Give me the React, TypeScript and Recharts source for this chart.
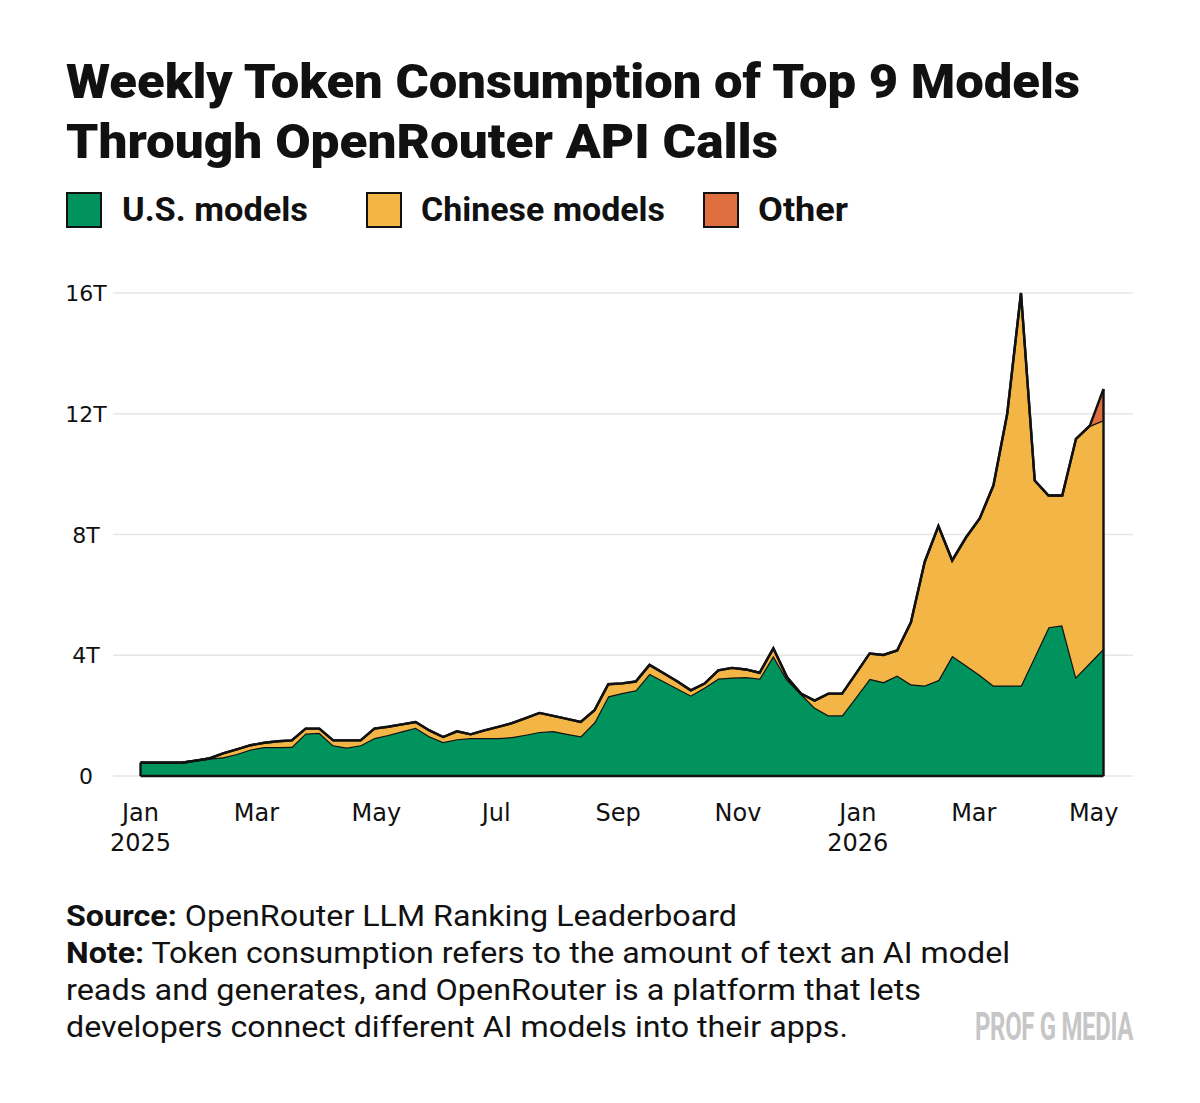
import React from "react";
import { AreaChart, Area, XAxis, YAxis, CartesianGrid, ReferenceLine } from "recharts";

// Weekly observation dates
const weeks = [
  "2025-01-01","2025-01-08","2025-01-15","2025-01-22","2025-01-29",
  "2025-02-05","2025-02-12","2025-02-19","2025-02-26",
  "2025-03-05","2025-03-12","2025-03-19","2025-03-26",
  "2025-04-02","2025-04-09","2025-04-16","2025-04-23","2025-04-30",
  "2025-05-07","2025-05-14","2025-05-21","2025-05-28",
  "2025-06-04","2025-06-11","2025-06-18","2025-06-25",
  "2025-07-02","2025-07-09","2025-07-16","2025-07-23","2025-07-30",
  "2025-08-06","2025-08-13","2025-08-20","2025-08-27",
  "2025-09-03","2025-09-10","2025-09-17","2025-09-24",
  "2025-10-01","2025-10-08","2025-10-15","2025-10-22","2025-10-29",
  "2025-11-05","2025-11-12","2025-11-19","2025-11-26",
  "2025-12-03","2025-12-10","2025-12-17","2025-12-24","2025-12-31",
  "2026-01-07","2026-01-14","2026-01-21","2026-01-28",
  "2026-02-04","2026-02-11","2026-02-18","2026-02-25",
  "2026-03-04","2026-03-11","2026-03-18","2026-03-25",
  "2026-04-01","2026-04-08","2026-04-15","2026-04-22","2026-04-29",
  "2026-05-06",
];

// Trillions of tokens per week
const usModels = [
  0.44,0.44,0.44,0.44,0.51,0.58,0.62,0.73,0.88,0.96,
  0.96,0.97,1.41,1.43,1.02,0.94,1.02,1.26,1.36,1.48,
  1.60,1.32,1.13,1.22,1.26,1.26,1.26,1.29,1.37,1.46,
  1.49,1.40,1.32,1.78,2.64,2.75,2.84,3.39,3.15,2.91,
  2.67,2.93,3.23,3.26,3.28,3.23,3.98,3.20,2.73,2.27,
  2.01,2.01,2.61,3.22,3.11,3.33,3.04,3.00,3.18,3.98,
  3.67,3.35,3.00,3.00,3.00,3.96,4.93,4.99,3.28,3.75,4.22,
];
const chineseModels = [
  0,0,0,0,0,0,0.13,0.15,0.14,0.14,
  0.19,0.21,0.16,0.14,0.16,0.24,0.16,0.31,0.27,0.23,
  0.19,0.19,0.16,0.26,0.12,0.25,0.37,0.46,0.55,0.63,
  0.50,0.49,0.47,0.40,0.40,0.32,0.29,0.29,0.26,0.23,
  0.17,0.13,0.27,0.32,0.25,0.19,0.25,0.07,0.00,0.23,
  0.72,0.72,0.78,0.84,0.90,0.83,2.05,4.09,5.10,3.16,
  4.23,5.18,6.63,9.00,13.0,5.83,4.36,4.30,7.89,7.85,7.57,
];
const otherModels = [
  0,0,0,0,0,0,0,0,0,0,
  0,0,0,0,0,0,0,0,0,0,
  0,0,0,0,0,0,0,0,0,0,
  0,0,0,0,0,0,0,0,0,0,
  0,0,0,0,0,0,0,0,0,0,
  0,0,0,0,0,0,0,0,0,0,
  0,0,0,0,0,0,0,0,0,0,1.03,
];

const tickDates = ["2025-01-01","2025-03-01","2025-05-01","2025-07-01","2025-09-01","2025-11-01","2026-01-01","2026-03-01","2026-05-01"];
const tickMonths = ["Jan","Mar","May","Jul","Sep","Nov","Jan","Mar","May"];
const tickYears = ["2025","","","","","","2026","",""];
const yTicks = [0, 4, 8, 12, 16];

const seriesNames = ["U.S. models", "Chinese models", "Other"];
const seriesColors = ["#00935E", "#F3B646", "#E06F3F"];

const DAY = 86400000;
const toT = (s: string) => Date.parse(s + "T00:00:00Z");

const data = weeks.map((w, i) => ({
  t: toT(w),
  us: usModels[i],
  cn: chineseModels[i],
  other: otherModels[i],
}));
const tickValues = tickDates.map(toT);
const first = data[0];
const last = data[data.length - 1];
const firstTotal = first.us + first.cn + first.other;
const lastTotal = last.us + last.cn + last.other;

const INK = "#111111";
const TICK_FONT = "'DejaVu Sans', sans-serif";
const HEAD_FONT = "Roboto, 'DejaVu Sans', sans-serif";

const XTick = (props: any) => {
  const { x, payload } = props;
  const idx = tickValues.indexOf(payload.value);
  return (
    <g>
      <text x={x} y={821} textAnchor="middle" fontFamily={TICK_FONT} fontSize={24} fill={INK}>
        {tickMonths[idx]}
      </text>
      {tickYears[idx] ? (
        <text x={x} y={851} textAnchor="middle" fontFamily={TICK_FONT} fontSize={24} fill={INK}>
          {tickYears[idx]}
        </text>
      ) : null}
    </g>
  );
};

const YTick = (props: any) => {
  const { y, payload } = props;
  return (
    <text x={86} y={y} dy={8} textAnchor="middle" fontFamily={TICK_FONT} fontSize={22} fill={INK}>
      {payload.value === 0 ? "0" : `${payload.value}T`}
    </text>
  );
};

const legendPos = [
  { sx: 67, tx: 122, len: 186 },
  { sx: 367, tx: 421, len: 244 },
  { sx: 704, tx: 758, len: 90 },
];

export default function App() {
  return (
    <div style={{ position: "absolute", left: 0, top: 0, width: 1200, height: 1103, background: "#fff" }}>
      <div style={{ position: "absolute", left: 0, top: 0 }}>
        <AreaChart
          width={1200}
          height={900}
          data={data}
          margin={{ top: 293, right: 67, left: 53, bottom: 44 }}
        >
          <CartesianGrid horizontal vertical={false} stroke="#e6e6e6" strokeWidth={1.5} />
          <XAxis
            dataKey="t"
            type="number"
            scale="time"
            domain={[first.t - 14 * DAY, last.t + 15 * DAY]}
            ticks={tickValues}
            tick={<XTick />}
            tickLine={false}
            axisLine={false}
            height={80}
            interval={0}
          />
          <YAxis
            width={60}
            type="number"
            domain={[0, 16]}
            ticks={yTicks}
            tick={<YTick />}
            tickLine={false}
            axisLine={false}
            interval={0}
          />
          <Area
            type="linear"
            dataKey="us"
            stackId="a"
            name={seriesNames[0]}
            fill={seriesColors[0]}
            fillOpacity={1}
            stroke={INK}
            strokeWidth={2.4}
            isAnimationActive={false}
          />
          <Area
            type="linear"
            dataKey="cn"
            stackId="a"
            name={seriesNames[1]}
            fill={seriesColors[1]}
            fillOpacity={1}
            stroke={INK}
            strokeWidth={2.4}
            isAnimationActive={false}
          />
          <Area
            type="linear"
            dataKey="other"
            stackId="a"
            name={seriesNames[2]}
            fill={seriesColors[2]}
            fillOpacity={1}
            stroke={INK}
            strokeWidth={2.4}
            isAnimationActive={false}
          />
          <ReferenceLine
            segment={[{ x: first.t, y: 0 }, { x: last.t, y: 0 }]}
            stroke={INK}
            strokeWidth={2.4}
          />
          <ReferenceLine
            segment={[{ x: first.t, y: 0 }, { x: first.t, y: firstTotal }]}
            stroke={INK}
            strokeWidth={2.4}
          />
          <ReferenceLine
            segment={[{ x: last.t, y: 0 }, { x: last.t, y: lastTotal }]}
            stroke={INK}
            strokeWidth={2.4}
          />
        </AreaChart>
      </div>
      <svg
        width={1200}
        height={1103}
        style={{ position: "absolute", left: 0, top: 0, pointerEvents: "none" }}
      >
        <text x={66} y={98} fontFamily={HEAD_FONT} fontWeight={900} fontSize={48} fill={INK}
          textLength={1014} lengthAdjust="spacingAndGlyphs">
          Weekly Token Consumption of Top 9 Models
        </text>
        <text x={66} y={158} fontFamily={HEAD_FONT} fontWeight={900} fontSize={48} fill={INK}
          textLength={712} lengthAdjust="spacingAndGlyphs">
          Through OpenRouter API Calls
        </text>

        {legendPos.map((p, i) => (
          <g key={i}>
            <rect x={p.sx} y={193} width={34} height={34} fill={seriesColors[i]} stroke={INK} strokeWidth={2} />
            <text x={p.tx} y={221} fontFamily={HEAD_FONT} fontWeight={700} fontSize={33} fill={INK}
              textLength={p.len} lengthAdjust="spacingAndGlyphs">
              {seriesNames[i]}
            </text>
          </g>
        ))}

        <text x={66} y={926} fontFamily={HEAD_FONT} fontSize={30} fill={INK}
          textLength={671} lengthAdjust="spacingAndGlyphs">
          <tspan fontWeight={700}>Source:</tspan> OpenRouter LLM Ranking Leaderboard
        </text>
        <text x={66} y={963} fontFamily={HEAD_FONT} fontSize={30} fill={INK}
          textLength={944} lengthAdjust="spacingAndGlyphs">
          <tspan fontWeight={700}>Note:</tspan> Token consumption refers to the amount of text an AI model
        </text>
        <text x={66} y={1000} fontFamily={HEAD_FONT} fontSize={30} fill={INK}
          textLength={855} lengthAdjust="spacingAndGlyphs">
          reads and generates, and OpenRouter is a platform that lets
        </text>
        <text x={66} y={1037} fontFamily={HEAD_FONT} fontSize={30} fill={INK}
          textLength={782} lengthAdjust="spacingAndGlyphs">
          developers connect different AI models into their apps.
        </text>
        <g transform="translate(975 1040) scale(0.63 1)">
          <text
            x={0}
            y={0}
            fontFamily={HEAD_FONT}
            fontWeight={700}
            fontSize={38}
            fill="#c6c6c6"
            letterSpacing={-0.5}
          >
            PROF G MEDIA
          </text>
        </g>
      </svg>
    </div>
  );
}
